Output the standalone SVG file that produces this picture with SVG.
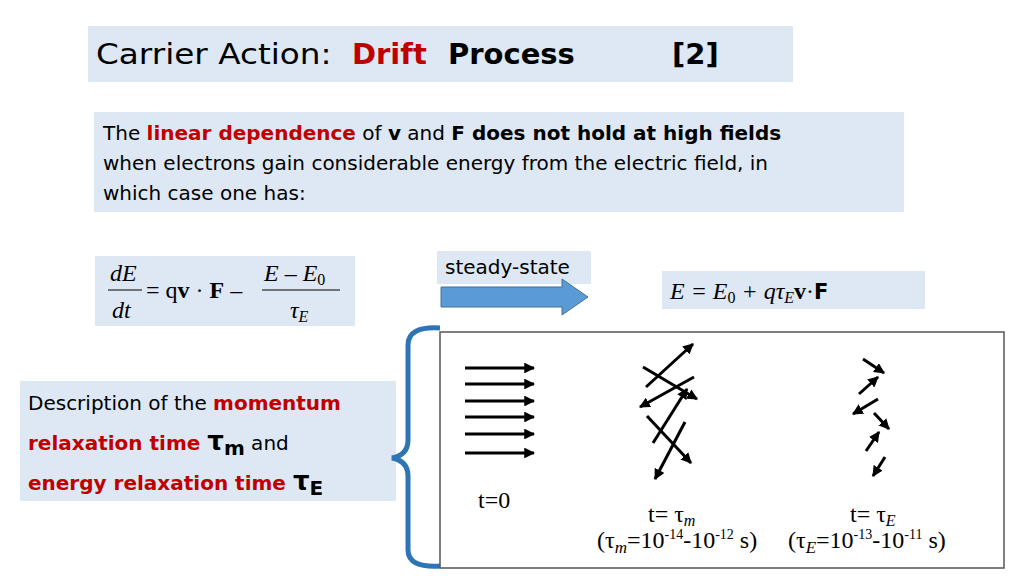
<svg xmlns="http://www.w3.org/2000/svg" width="1024" height="576" viewBox="0 0 1024 576">
<defs>
<marker id="ah" viewBox="0 0 10 10" refX="9" refY="5" markerWidth="3.6" markerHeight="3.6" orient="auto"><path d="M0,0L10,5L0,10z" fill="#000"/></marker>
<style>
.bx{fill:#dde8f4}
.t{font-family:"DejaVu Sans",sans-serif;font-size:20px;fill:#000}
.r{fill:#c00000;font-weight:bold}
.m{font-family:"Liberation Serif",serif;font-size:24px;fill:#000}
.a line{stroke:#000;stroke-width:3;marker-end:url(#ah)}
</style>
</defs>
<rect width="1024" height="576" fill="#fff"/>
<g id="title"><rect class="bx" x="88" y="26" width="705" height="56"/>
<text x="96" y="64" font-family="DejaVu Sans,sans-serif" font-size="29"><tspan textLength="246" lengthAdjust="spacingAndGlyphs">Carrier Action: </tspan><tspan x="352" fill="#c00000" font-weight="bold">Drift</tspan><tspan font-weight="bold" x="448">Process</tspan><tspan font-weight="bold" x="672">[2]</tspan></text></g>
<g id="intro"><rect class="bx" x="94" y="112" width="810" height="100"/>
<text class="t" x="103" y="140">The <tspan class="r" font-weight="normal">linear dependence</tspan> of <tspan font-weight="bold">v</tspan> and <tspan font-weight="bold">F does not hold at high fields</tspan></text>
<text class="t" x="103" y="170">when electrons gain considerable energy from the electric field, in</text>
<text class="t" x="103" y="200">which case one has:</text></g>
<g id="eq1"><rect class="bx" x="95" y="256" width="260" height="70"/>
<text class="m" font-style="italic" x="110" y="281">dE</text><line x1="108" y1="290" x2="142" y2="290" stroke="#000" stroke-width="1.2"/>
<text class="m" font-style="italic" x="112" y="318">dt</text>
<text class="m" x="146" y="298">= q<tspan font-weight="bold">v</tspan> · <tspan font-weight="bold">F</tspan> –</text>
<text class="m" font-style="italic" x="264" y="281">E – E<tspan font-style="normal" font-size="16" dy="4">0</tspan></text><line x1="262" y1="290" x2="340" y2="290" stroke="#000" stroke-width="1.2"/>
<text class="m" font-style="italic" x="290" y="318">τ<tspan font-size="16" dy="4">E</tspan></text></g>
<g id="steady"><rect class="bx" x="437" y="251" width="154" height="33"/>
<text class="t" x="445" y="274" font-size="18">steady-state</text></g>
<g id="eq2"><rect class="bx" x="662" y="271" width="263" height="38"/>
<text class="m" font-style="italic" x="670" y="299">E = E<tspan font-style="normal" font-size="16" dy="4">0</tspan><tspan dy="-4"> + qτ</tspan><tspan font-size="16" dy="4">E</tspan><tspan dy="-4" font-style="normal" font-weight="bold">v</tspan><tspan font-style="normal">·</tspan><tspan font-style="normal" font-weight="bold" font-family="DejaVu Sans,sans-serif" font-size="21">F</tspan></text></g>
<g id="desc"><rect class="bx" x="20" y="381" width="376" height="120"/>
<text class="t" x="28" y="410">Description of the <tspan class="r">momentum</tspan></text>
<text class="t" x="28" y="450"><tspan class="r">relaxation time </tspan><tspan font-weight="bold" font-size="26">τ<tspan font-size="20" dy="5">m</tspan></tspan><tspan dy="-5"> and</tspan></text>
<text class="t" x="28" y="490"><tspan class="r">energy relaxation time </tspan><tspan font-weight="bold" font-size="26">τ<tspan font-size="20" dy="5">E</tspan></tspan></text></g>
<g id="brace"><path d="M440,328 Q408,326 408,345 L408,440 Q408,455 392,458 Q408,461 408,476 L408,550 Q408,568 440,566" fill="none" stroke="#2e75b6" stroke-width="5"/></g>
<g id="connectors">
<path d="M441,287 H562 V279 L588,297 L562,315 V307 H441 Z" fill="#5b9bd5" stroke="#41719c" stroke-width="1"/>
</g>
<g id="panel"><rect x="440" y="332" width="564" height="236" fill="#fff" stroke="#555" stroke-width="1.5"/>
<g class="a">
<line x1="465" y1="368" x2="534" y2="368"/><line x1="465" y1="384" x2="534" y2="384"/><line x1="465" y1="401" x2="534" y2="401"/><line x1="465" y1="417" x2="534" y2="417"/><line x1="465" y1="434" x2="534" y2="434"/><line x1="465" y1="453" x2="534" y2="453"/>
<line x1="646" y1="387" x2="693" y2="344"/><line x1="643" y1="367" x2="697" y2="399"/><line x1="694" y1="377" x2="640" y2="407"/><line x1="653" y1="443" x2="687" y2="389"/><line x1="647" y1="416" x2="691" y2="463"/><line x1="685" y1="422" x2="655" y2="479"/>
<line x1="863" y1="359" x2="884" y2="373"/><line x1="859" y1="394" x2="878" y2="377"/><line x1="878" y1="399" x2="853" y2="414"/><line x1="874" y1="413" x2="889" y2="429"/><line x1="866" y1="451" x2="879" y2="432"/><line x1="885" y1="457" x2="873" y2="476"/>
</g>
<text class="m" x="478" y="508" font-size="21">t=0</text>
<text class="m" x="648" y="522" font-size="21">t= τ<tspan font-style="italic" font-size="16" dy="4">m</tspan></text>
<text class="m" x="597" y="548" font-size="24">(τ<tspan font-style="italic" font-size="17" dy="5">m</tspan><tspan dy="-5">=10</tspan><tspan font-size="14" dy="-9">-14</tspan><tspan dy="9">-10</tspan><tspan font-size="14" dy="-9">-12</tspan><tspan dy="9"> s)</tspan></text>
<text class="m" x="850" y="522" font-size="21">t= τ<tspan font-style="italic" font-size="16" dy="4">E</tspan></text>
<text class="m" x="788" y="548" font-size="24">(τ<tspan font-style="italic" font-size="17" dy="5">E</tspan><tspan dy="-5">=10</tspan><tspan font-size="14" dy="-9">-13</tspan><tspan dy="9">-10</tspan><tspan font-size="14" dy="-9">-11</tspan><tspan dy="9"> s)</tspan></text>
</g>
</svg>
